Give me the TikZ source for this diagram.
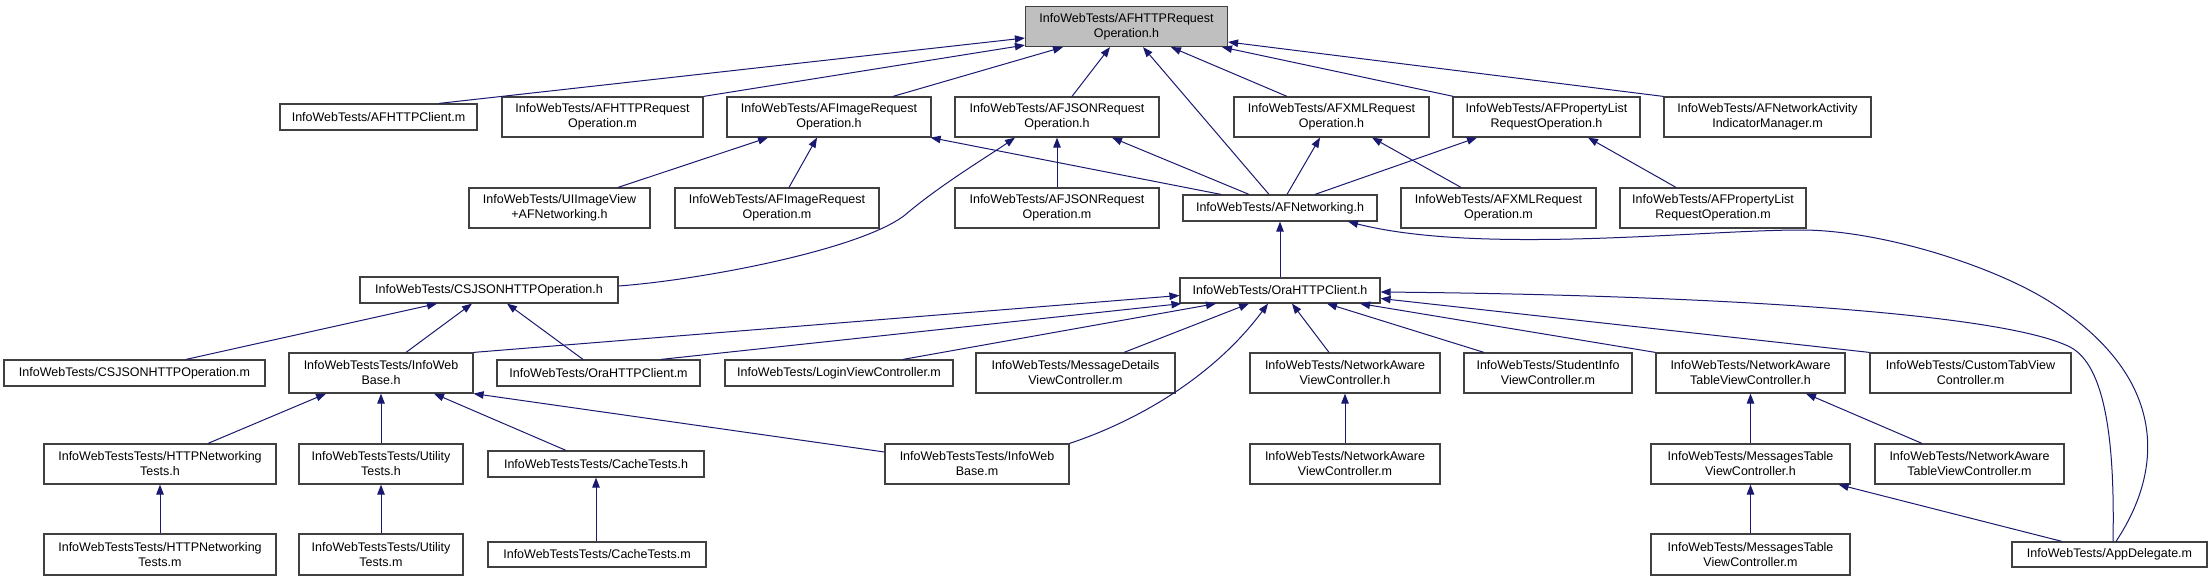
\documentclass[tikz,border=0pt]{standalone}
\usepackage{fontspec}
\setmainfont{Liberation Sans}
\usetikzlibrary{arrows.meta,calc}
\definecolor{edgeblue}{HTML}{191970}
\definecolor{boxline}{HTML}{404040}
\definecolor{rootfill}{HTML}{BFBFBF}
\tikzset{
  filebox/.style={draw=boxline, line width=1.2pt, fill=white, inner sep=0pt, align=center,
    font=\fontsize{12.5}{15}\selectfont},
  rootbox/.style={filebox, fill=rootfill},
  dep/.style={draw=edgeblue, line width=1pt, -{Triangle[length=10pt,width=7.5pt]}},
}
\newcommand\mybox[5]{\node[filebox, minimum width=#3pt, minimum height=#4pt] (#1) at (#2) {#5};}
\begin{document}
\begin{tikzpicture}[x=1pt,y=-1pt]
\useasboundingbox (0,0) rectangle (2212,581);
% nodes
\node[rootbox, minimum width=202pt, minimum height=40pt] (root) at (1126.5,26.5) {InfoWebTests/AFHTTPRequest\\Operation.h};
\mybox{n1}{378.5,117}{197}{26}{InfoWebTests/AFHTTPClient.m}
\mybox{n2}{602.5,117}{201}{40}{InfoWebTests/AFHTTPRequest\\Operation.m}
\mybox{afimageh}{829,117}{204}{40}{InfoWebTests/AFImageRequest\\Operation.h}
\mybox{afjsonh}{1057,117}{204}{40}{InfoWebTests/AFJSONRequest\\Operation.h}
\mybox{afxmlh}{1331.5,117}{195}{40}{InfoWebTests/AFXMLRequest\\Operation.h}
\mybox{afplisth}{1546.5,117}{187}{40}{InfoWebTests/AFPropertyList\\RequestOperation.h}
\mybox{afnaim}{1767.5,117}{207}{40}{InfoWebTests/AFNetworkActivity\\IndicatorManager.m}
\mybox{uiimage}{559.5,208}{181}{40}{InfoWebTests/UIImageView\\+AFNetworking.h}
\mybox{afimagem}{777,208}{204}{40}{InfoWebTests/AFImageRequest\\Operation.m}
\mybox{afjsonm}{1057,208}{204}{40}{InfoWebTests/AFJSONRequest\\Operation.m}
\mybox{afnet}{1280,208}{194}{26}{InfoWebTests/AFNetworking.h}
\mybox{afxmlm}{1498.5,208}{195}{40}{InfoWebTests/AFXMLRequest\\Operation.m}
\mybox{afplistm}{1713,208}{186}{40}{InfoWebTests/AFPropertyList\\RequestOperation.m}
\mybox{csjsonh}{489,290}{258}{26}{InfoWebTests/CSJSONHTTPOperation.h}
\mybox{orah}{1280,290.5}{200}{25}{InfoWebTests/OraHTTPClient.h}
\mybox{csjsonm}{134.5,373}{261}{26}{InfoWebTests/CSJSONHTTPOperation.m}
\mybox{iwbh}{381,373}{184}{40}{InfoWebTestsTests/InfoWeb\\Base.h}
\mybox{oram}{598.5,373}{203}{26}{InfoWebTests/OraHTTPClient.m}
\mybox{loginm}{839,373}{228}{26}{InfoWebTests/LoginViewController.m}
\mybox{msgdetm}{1075.5,373}{199}{40}{InfoWebTests/MessageDetails\\ViewController.m}
\mybox{navch}{1345,373}{190}{40}{InfoWebTests/NetworkAware\\ViewController.h}
\mybox{studm}{1548,373}{168}{40}{InfoWebTests/StudentInfo\\ViewController.m}
\mybox{natvch}{1750.5,373}{189}{40}{InfoWebTests/NetworkAware\\TableViewController.h}
\mybox{custm}{1970.5,373}{201}{40}{InfoWebTests/CustomTabView\\Controller.m}
\mybox{httph}{160,464}{232}{40}{InfoWebTestsTests/HTTPNetworking\\Tests.h}
\mybox{utilh}{381,464}{164}{40}{InfoWebTestsTests/Utility\\Tests.h}
\mybox{cacheh}{596,464}{216}{26}{InfoWebTestsTests/CacheTests.h}
\mybox{iwbm}{977,464}{184}{40}{InfoWebTestsTests/InfoWeb\\Base.m}
\mybox{navcm}{1345,464}{190}{40}{InfoWebTests/NetworkAware\\ViewController.m}
\mybox{msgtvch}{1750.5,464}{199}{40}{InfoWebTests/MessagesTable\\ViewController.h}
\mybox{natvcm}{1969.5,464}{189}{40}{InfoWebTests/NetworkAware\\TableViewController.m}
\mybox{httpm}{160,554.5}{232}{41}{InfoWebTestsTests/HTTPNetworking\\Tests.m}
\mybox{utilm}{381,554.5}{164}{41}{InfoWebTestsTests/Utility\\Tests.m}
\mybox{cachem}{597,554.5}{218}{25}{InfoWebTestsTests/CacheTests.m}
\mybox{msgtvcm}{1750.5,554.5}{199}{41}{InfoWebTests/MessagesTable\\ViewController.m}
\mybox{appm}{2109.5,554.5}{195}{25}{InfoWebTests/AppDelegate.m}
% edges to root
\draw[dep] ($(n1.north)+(60.5,0)$) -- ($(root.west)+(0,11.5)$);
\draw[dep] (n2.north east) -- ($(root.south west)+(0,-2)$);
\draw[dep] ($(afimageh.north)+(64,0)$) -- ($(root.south)+(-63.5,0)$);
\draw[dep] ($(afjsonh.north)+(15,0)$) -- ($(root.south)+(-16.5,0)$);
\draw[dep] ($(afnet.north)+(-11,0)$) -- ($(root.south)+(16.5,0)$);
\draw[dep] ($(afxmlh.north)+(-44.5,0)$) -- ($(root.south)+(44.5,0)$);
\draw[dep] ($(afplisth.north west)+(1,0)$) -- ($(root.south)+(95.5,0)$);
\draw[dep] (afnaim.north west) -- ($(root.east)+(0,15.5)$);
% AFImageRequestOperation.h
\draw[dep] ($(uiimage.north)+(58.5,0)$) -- ($(afimageh.south)+(-61,0)$);
\draw[dep] ($(afimagem.north)+(12,0)$) -- ($(afimageh.south)+(-12,0)$);
\draw[dep] ($(afnet.north)+(-59,0)$) -- ($(afimageh.south east)+(-1,0)$);
% AFJSONRequestOperation.h
\draw[dep] ($(csjsonh.east)+(0,-4)$) .. controls (700,280) and (860,250) .. (905,215)
   .. controls (940,185) and (990,155) .. ($(afjsonh.south)+(-42,0)$);
\draw[dep] (afjsonm.north) -- (afjsonh.south);
\draw[dep] ($(afnet.north)+(-31,0)$) -- ($(afjsonh.south)+(55,0)$);
% AFXML / AFPropertyList
\draw[dep] ($(afnet.north)+(7,0)$) -- ($(afxmlh.south)+(-11.5,0)$);
\draw[dep] ($(afxmlm.north)+(-37.5,0)$) -- ($(afxmlh.south)+(40.5,0)$);
\draw[dep] ($(afnet.north)+(35,0)$) -- ($(afplisth.south)+(-69.5,0)$);
\draw[dep] ($(afplistm.north)+(-37,0)$) -- ($(afplisth.south)+(41.5,0)$);
% AFNetworking.h
\draw[dep] (orah.north) -- (afnet.south);
\draw[dep] ($(appm.north)+(6.5,0)$) .. controls (2170,460) and (2160,370) .. (2047,300)
   .. controls (1990,265) and (1880,230) .. (1801,230)
   .. controls (1700,230) and (1480,255) .. ($(afnet.south)+(68,0)$);
% CSJSONHTTPOperation.h
\draw[dep] ($(csjsonm.north)+(51.5,0)$) -- ($(csjsonh.south)+(-52,0)$);
\draw[dep] ($(iwbh.north)+(25,0)$) -- ($(csjsonh.south)+(-17,0)$);
\draw[dep] ($(oram.north)+(-15.5,0)$) -- ($(csjsonh.south)+(18,0)$);
% OraHTTPClient.h
\draw[dep] (iwbh.north east) -- ($(orah.west)+(0,5)$);
\draw[dep] ($(oram.north)+(62.5,0)$) -- ($(orah.south west)+(2,0)$);
\draw[dep] ($(loginm.north)+(64,0)$) -- ($(orah.south)+(-64,0)$);
\draw[dep] ($(msgdetm.north)+(48.5,0)$) -- ($(orah.south)+(-31,0)$);
\draw[dep] (iwbm.north east) .. controls (1140,420) and (1215,375) .. ($(orah.south)+(-12,0)$);
\draw[dep] ($(navch.north)+(-16,0)$) -- ($(orah.south)+(12,0)$);
\draw[dep] ($(studm.north)+(-64,0)$) -- ($(orah.south)+(47,0)$);
\draw[dep] (natvch.north west) -- ($(orah.south)+(80,0)$);
\draw[dep] (custm.north west) -- ($(orah.east)+(0,8)$);
\draw[dep] ($(appm.north)+(3.5,0)$) .. controls (2115,440) and (2105,365) .. (2070,347)
   .. controls (2000,312) and (1700,295) .. ($(orah.east)+(0,1.5)$);
% InfoWebBase.h
\draw[dep] ($(httph.north)+(48,0)$) -- ($(iwbh.south)+(-55,0)$);
\draw[dep] (utilh.north) -- (iwbh.south);
\draw[dep] ($(cacheh.north)+(-30,0)$) -- ($(iwbh.south)+(53,0)$);
\draw[dep] ($(iwbm.west)+(0,-12)$) -- (iwbh.south east);
% tests
\draw[dep] (httpm.north) -- (httph.south);
\draw[dep] (utilm.north) -- (utilh.south);
\draw[dep] ($(cachem.north)+(-1,0)$) -- (cacheh.south);
\draw[dep] (navcm.north) -- (navch.south);
% NetworkAwareTableViewController.h / MessagesTable
\draw[dep] (msgtvch.north) -- (natvch.south);
\draw[dep] ($(natvcm.north)+(-47.5,0)$) -- ($(natvch.south)+(55.5,0)$);
\draw[dep] (msgtvcm.north) -- (msgtvch.south);
\draw[dep] ($(appm.north)+(-47.5,0)$) -- ($(msgtvch.south east)+(-12,0)$);
\end{tikzpicture}
\end{document}
